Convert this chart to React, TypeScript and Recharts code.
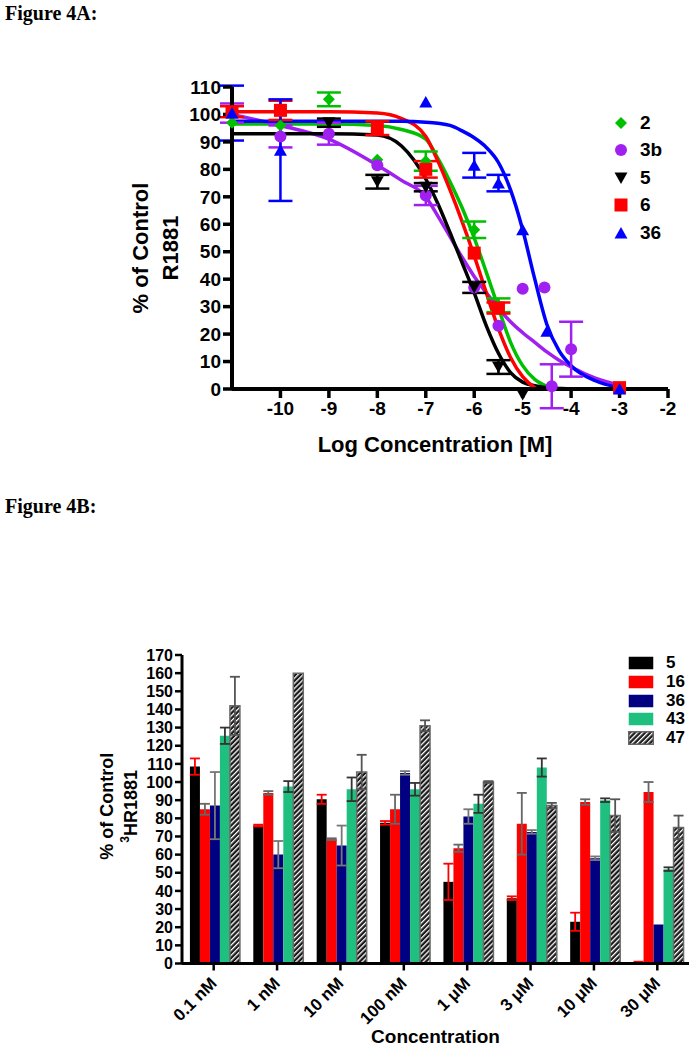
import React from 'react';
import {
  ComposedChart, Line, Scatter, ErrorBar, XAxis, YAxis, Legend,
  BarChart, Bar,
} from 'recharts';

const SANS = '"Liberation Sans", Arial, Helvetica, sans-serif';
const SERIF = '"Liberation Serif", "Times New Roman", serif';

// ---------- Figure 4A ----------
const logTicks = [-10, -9, -8, -7, -6, -5, -4, -3, -2];
const pctTicksA = [0, 10, 20, 30, 40, 50, 60, 70, 80, 90, 100, 110];

// fitted curves at these log concentrations
const curveX = [-11, -10, -9, -8, -7.5, -7, -6.75, -6.5, -6.25, -6, -5.75, -5.5, -5.25, -5, -4.75, -4.5, -4.25, -4, -3.5, -3];
const fit2 = [96.5, 96.5, 96.5, 96, 94.5, 91, 84, 75.5, 66, 55, 42.5, 29.5, 17, 8.5, 3.5, 1, -0.2, -1, -1.5, -1.5];
const fit3b = [100, 96, 91, 81.5, 76, 70, 63, 55.5, 48, 41, 35, 29.5, 24.5, 20.5, 17, 13.5, 10.5, 8, 4, 1.5];
const fit5 = [93, 93, 93, 92.5, 88.5, 76.5, 67.5, 57, 46, 35, 23, 13, 6, 2.5, 1.2, 0.5, 0.2, 0, 0, 0];
const fit6 = [101, 101, 101, 100.5, 98.5, 92, 83, 72.5, 61, 48.5, 35, 22, 11.5, 4.5, 0.5, -1.5, -2.5, -3, -3.2, -3.2];
const fit36 = [97.5, 97.5, 97.5, 97.5, 97.5, 97.2, 96.8, 96, 94, 91.5, 88, 82.5, 72.5, 58, 40, 23.5, 14, 8.5, 3, 0.5];

// measured points (mean, SEM)
const x2 = [-11, -10, -9, -8, -7, -6, -5.5];
const y2 = [97, 96, 105.5, 83.5, 83, 58, 30.5];
const e2 = [null, null, 2.5, null, 3.5, 3, 2.5];

const x3b = [-11, -10, -9, -8, -7, -6, -5.5, -5, -4.55, -4.4, -4];
const y3b = [100.5, 92, 93, 81.5, 70.5, 37, 23, 36.5, 37, 1, 14.5];
const e3b = [3.5, 4, 4, null, 3.5, null, null, null, null, 8, 10];

const x5 = [-9, -8, -7, -6, -5.5, -5];
const y5 = [97, 75.5, 73.5, 37, 8, -2];
const e5 = [1.5, 2.5, 1.5, 2, 2.5, null];

const x6 = [-11, -10, -8, -7, -6, -5.5, -3];
const y6 = [101, 101.5, 95, 80, 49.5, 29.5, 0.5];
const e6 = [2, 3.5, 2.5, 3, null, 2, null];

const x36 = [-11, -10, -7, -6, -5.5, -5, -4.5, -3];
const y36 = [100.5, 87, 104.5, 81.5, 75, 58, 21, 0];
const e36 = [10, 18.5, null, 4.5, 3, null, null, null];

const pts = (xs: number[], ys: number[], es: (number | null)[]) =>
  xs.map((x, i) => (es[i] == null ? { x, y: ys[i] } : { x, y: ys[i], err: es[i] }));
const curve = (ys: number[]) => curveX.map((x, i) => ({ x, y: ys[i] }));

const seriesA = [
  { name: '2', color: '#00c000', kind: 'diamond', points: pts(x2, y2, e2), fit: curve(fit2) },
  { name: '3b', color: '#a020f0', kind: 'circle', points: pts(x3b, y3b, e3b), fit: curve(fit3b) },
  { name: '5', color: '#000000', kind: 'down', points: pts(x5, y5, e5), fit: curve(fit5) },
  { name: '6', color: '#ff0000', kind: 'square', points: pts(x6, y6, e6), fit: curve(fit6) },
  { name: '36', color: '#0000ff', kind: 'up', points: pts(x36, y36, e36), fit: curve(fit36) },
];

const Marker = ({ kind, cx, cy, color }: any) => {
  if (cx == null || cy == null) return null;
  switch (kind) {
    case 'diamond':
      return <polygon points={`${cx},${cy - 6} ${cx + 6},${cy} ${cx},${cy + 6} ${cx - 6},${cy}`} fill={color} />;
    case 'circle':
      return <circle cx={cx} cy={cy} r={6} fill={color} />;
    case 'down':
      return <polygon points={`${cx - 6.5},${cy - 5.5} ${cx + 6.5},${cy - 5.5} ${cx},${cy + 6}`} fill={color} />;
    case 'square':
      return <rect x={cx - 6.5} y={cy - 6.5} width={13} height={13} fill={color} />;
    default:
      return <polygon points={`${cx - 6.5},${cy + 5.5} ${cx + 6.5},${cy + 5.5} ${cx},${cy - 6}`} fill={color} />;
  }
};

const LegendA = () => (
  <div style={{ fontFamily: SANS, fontWeight: 'bold', fontSize: 19 }}>
    {seriesA.map(s => (
      <div key={s.name} style={{ display: 'flex', alignItems: 'center', height: 27.5 }}>
        <svg width={22} height={16}>
          <Marker kind={s.kind} cx={11} cy={8} color={s.color} />
        </svg>
        <span style={{ marginLeft: 8 }}>{s.name}</span>
      </div>
    ))}
  </div>
);

const YLabelA = ({ viewBox }: any) => {
  const cy = viewBox.y + viewBox.height / 2 + 10;
  return (
    <g fontFamily={SANS} fontWeight="bold" fontSize={22} fill="#000">
      <text x={140} y={cy} transform={`rotate(-90 140 ${cy})`} textAnchor="middle" dominantBaseline="central">% of Control</text>
      <text x={170} y={cy} transform={`rotate(-90 170 ${cy})`} textAnchor="middle" dominantBaseline="central">R1881</text>
    </g>
  );
};

const XLabelA = ({ viewBox }: any) => (
  <text x={viewBox.x + viewBox.width / 2 - 15} y={452} textAnchor="middle" fontFamily={SANS} fontWeight="bold" fontSize={22}>
    Log Concentration [M]
  </text>
);

const tickA = { fontFamily: SANS, fontWeight: 'bold', fontSize: 19, fill: '#000' };

// ---------- Figure 4B ----------
const concLabels = ['0.1 nM', '1 nM', '10 nM', '100 nM', '1 \u03bcM', '3 \u03bcM', '10 \u03bcM', '30 \u03bcM'];
const pctTicksB = [0, 10, 20, 30, 40, 50, 60, 70, 80, 90, 100, 110, 120, 130, 140, 150, 160, 170];

const v5 = [108.5, 76, 90.5, 77.5, 45, 36, 23, 0.5];
const err5 = [4.5, 0.5, 2.5, 1, 10, 1, 5, 0.5];
const v16 = [85, 94, 68.5, 85, 63.5, 77, 89, 94.5];
const err16 = [3, 1, 0.5, 8, 2, 17, 1.5, 5.5];
const v36 = [87, 60, 65, 105, 81, 72.5, 58, 21.5];
const err36 = [18.5, 7.5, 11, 1, 4, 1, 1, 0];
const v43 = [125.5, 97.5, 96, 96, 88, 108, 90, 52];
const err43 = [4.5, 3, 6.5, 3.5, 5, 5, 1, 1];
const v47 = [142, 160, 105.5, 131, 100, 87, 81.5, 75];
const err47 = [16, 0, 9.5, 3, 0.5, 1.5, 9, 6.5];

const rowsB = concLabels.map((c, i) => ({
  c,
  v5: v5[i], err5: err5[i],
  v16: v16[i], err16: err16[i],
  v36: v36[i], err36: err36[i],
  v43: v43[i], err43: err43[i],
  v47: v47[i], err47: err47[i],
}));

const seriesB = [
  { key: 'v5', err: 'err5', name: '5', fill: '#000000', errColor: '#ff0000' },
  { key: 'v16', err: 'err16', name: '16', fill: '#ff0000', errColor: '#666666' },
  { key: 'v36', err: 'err36', name: '36', fill: '#000080', errColor: '#777777' },
  { key: 'v43', err: 'err43', name: '43', fill: '#1fc07f', errColor: '#333333' },
  { key: 'v47', err: 'err47', name: '47', fill: 'url(#hatch47)', errColor: '#555555' },
];

const LegendB = () => (
  <div style={{ fontFamily: SANS, fontWeight: 'bold', fontSize: 17 }}>
    {seriesB.map(s => (
      <div key={s.name} style={{ display: 'flex', alignItems: 'center', height: 18.7 }}>
        <svg width={26} height={14}>
          <rect x={0.75} y={0.75} width={24.5} height={12.5} fill={s.fill}
            stroke={s.name === '47' ? '#666' : 'none'} strokeWidth={1.5} />
        </svg>
        <span style={{ marginLeft: 12 }}>{s.name}</span>
      </div>
    ))}
  </div>
);

const RotTick = ({ x, y, payload }: any) => (
  <text x={x + 4} y={y + 12} transform={`rotate(-45 ${x + 4} ${y + 12})`} textAnchor="end"
    fontFamily={SANS} fontWeight="bold" fontSize={17} fill="#000">
    {payload.value}
  </text>
);

const YLabelB = ({ viewBox }: any) => {
  const cy = viewBox.y + viewBox.height / 2 - 3;
  return (
    <g fontFamily={SANS} fontWeight="bold" fontSize={18} fill="#000">
      <text x={107} y={cy} transform={`rotate(-90 107 ${cy})`} textAnchor="middle" dominantBaseline="central">% of Control</text>
      <text x={131} y={cy} transform={`rotate(-90 131 ${cy})`} textAnchor="middle" dominantBaseline="central">
        <tspan fontSize={12} dy={-6}>3</tspan><tspan dy={6}>HR1881</tspan>
      </text>
    </g>
  );
};

const XLabelB = ({ viewBox }: any) => (
  <text x={viewBox.x + viewBox.width / 2} y={443} textAnchor="middle" fontFamily={SANS} fontWeight="bold" fontSize={19}>
    Concentration
  </text>
);

const tickB = { fontFamily: SANS, fontWeight: 'bold', fontSize: 16, fill: '#000' };

export default function App() {
  return (
    <div style={{ position: 'absolute', left: 0, top: 0, width: 697, height: 1050, background: '#fff' }}>
      <style>{'.figA g[clip-path]{clip-path:none !important}'}</style>
      <div style={{ position: 'absolute', left: 5, top: 2, fontFamily: SERIF, fontWeight: 'bold', fontSize: 20 }}>Figure 4A:</div>
      <div style={{ position: 'absolute', left: 5, top: 495, fontFamily: SERIF, fontWeight: 'bold', fontSize: 20 }}>Figure 4B:</div>

      <div className="figA" style={{ position: 'absolute', left: 0, top: 0 }}>
        <ComposedChart width={697} height={470} margin={{ top: 87, right: 29, bottom: 51, left: 172 }}>
          <XAxis type="number" dataKey="x" domain={[-11, -2]} ticks={logTicks} allowDataOverflow
            height={30} tick={tickA} tickSize={9} tickMargin={4}
            axisLine={{ stroke: '#000', strokeWidth: 4 }} tickLine={{ stroke: '#000', strokeWidth: 3.5 }}
            label={<XLabelA />} />
          <YAxis type="number" domain={[0, 110]} ticks={pctTicksA} allowDataOverflow interval={0}
            width={60} tick={tickA} tickSize={9} tickMargin={2}
            axisLine={{ stroke: '#000', strokeWidth: 4 }} tickLine={{ stroke: '#000', strokeWidth: 3.5 }}
            label={<YLabelA />} />
          {seriesA.map(s => (
            <Line key={'fit' + s.name} data={s.fit} dataKey="y" type="monotone" stroke={s.color}
              strokeWidth={3.5} dot={false} activeDot={false} isAnimationActive={false} legendType="none" />
          ))}
          {seriesA.map(s => (
            <Scatter key={'pt' + s.name} data={s.points} dataKey="y" fill={s.color} isAnimationActive={false}
              shape={(p: any) => <Marker kind={s.kind} cx={p.cx} cy={p.cy} color={s.color} />}>
              <ErrorBar dataKey="err" direction="y" width={12} stroke={s.color} strokeWidth={2.5} />
            </Scatter>
          ))}
          <Legend layout="vertical" align="center" verticalAlign="middle"
            wrapperStyle={{ position: 'absolute', left: 610, top: 109, width: 80, height: 140 }} content={() => <LegendA />} />
        </ComposedChart>
      </div>

      <div style={{ position: 'absolute', left: 0, top: 600 }}>
        <BarChart width={697} height={450} data={rowsB} barCategoryGap="12.5%" barGap={0}
          margin={{ top: 55, right: 8, bottom: 16.5, left: 132 }}>
          <defs>
            <pattern id="hatch47" patternUnits="userSpaceOnUse" width="3.6" height="3.6" patternTransform="rotate(45)">
              <rect width="3.6" height="3.6" fill="#1a1a1a" />
              <rect width="1.3" height="3.6" fill="#ffffff" />
            </pattern>
          </defs>
          <XAxis dataKey="c" height={70} interval={0} tick={<RotTick />} tickSize={7}
            axisLine={{ stroke: '#000', strokeWidth: 3 }} tickLine={{ stroke: '#000', strokeWidth: 2.5 }}
            label={<XLabelB />} />
          <YAxis domain={[0, 170]} ticks={pctTicksB} interval={0} width={50} tick={tickB} tickSize={7} tickMargin={2}
            axisLine={{ stroke: '#000', strokeWidth: 3 }} tickLine={{ stroke: '#000', strokeWidth: 2.5 }}
            label={<YLabelB />} />
          {seriesB.map(s => (
            <Bar key={s.key} dataKey={s.key} name={s.name} fill={s.fill} isAnimationActive={false}
              stroke={s.name === '47' ? '#6b6b6b' : 'none'} strokeWidth={1.5}>
              <ErrorBar dataKey={s.err} width={5} stroke={s.errColor} strokeWidth={1.8} />
            </Bar>
          ))}
          <Legend layout="vertical" align="center" verticalAlign="middle"
            wrapperStyle={{ position: 'absolute', left: 628, top: 54, width: 70, height: 100 }} content={() => <LegendB />} />
        </BarChart>
      </div>
    </div>
  );
}
